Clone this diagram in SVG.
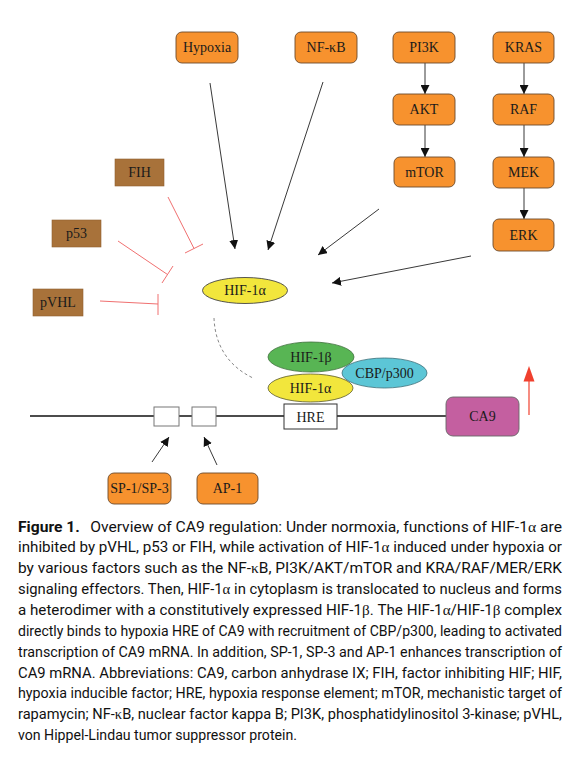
<svg xmlns="http://www.w3.org/2000/svg" width="587" height="758" viewBox="0 0 587 758">
<defs>
<marker id="ah" viewBox="0 0 10 10" refX="10" refY="5" markerWidth="9" markerHeight="9" markerUnits="userSpaceOnUse" orient="auto">
<path d="M0,0 L10,5 L0,10 z" fill="#111"/>
</marker>
</defs>
<style>
.or{fill:#F7922E;stroke:#6b4a2a;stroke-width:0.9}
.br{fill:#A8723A;stroke:#8f6030;stroke-width:0.6}
.lbl{font-family:"Liberation Serif","Times New Roman",serif;font-size:14px;fill:#1a1a1a;text-anchor:middle}
.ar{stroke:#222;stroke-width:0.9;fill:none;marker-end:url(#ah)}
.inh{stroke:#F07070;stroke-width:1;fill:none}
.cap{font-family:Roboto,"Liberation Sans",sans-serif;font-size:14.5px;fill:#111}
.gk{font-family:"Liberation Serif",serif}
.box{fill:#fff;stroke:#777;stroke-width:1}
</style>
<rect width="587" height="758" fill="#fff"/>

<g id="connectors">
<line class="ar" x1="425" y1="63" x2="425" y2="94"/>
<line class="ar" x1="524" y1="63" x2="524" y2="94"/>
<line class="ar" x1="425" y1="125" x2="425" y2="157"/>
<line class="ar" x1="524" y1="125" x2="524" y2="157"/>
<line class="ar" x1="524" y1="187" x2="524" y2="219"/>
<line class="ar" x1="210" y1="83" x2="235" y2="249"/>
<line class="ar" x1="323" y1="82" x2="268" y2="250"/>
<line class="ar" x1="379" y1="209" x2="318" y2="255"/>
<line class="ar" x1="471" y1="256" x2="332" y2="283"/>
<line class="inh" x1="168" y1="197" x2="194" y2="248.5"/>
<line class="inh" x1="185" y1="253" x2="203" y2="244"/>
<line class="inh" x1="118" y1="241" x2="167.5" y2="274.5"/>
<line class="inh" x1="162" y1="283" x2="173" y2="266"/>
<line class="inh" x1="100" y1="301" x2="158" y2="304"/>
<line class="inh" x1="158" y1="294" x2="158" y2="315"/>
<path d="M214,318 C215,345 228,366 253,378" fill="none" stroke="#888" stroke-width="1" stroke-dasharray="3,2.5"/>
<line class="ar" x1="152" y1="462" x2="169" y2="437"/>
<line class="ar" x1="217" y1="465" x2="204" y2="437"/>
</g>

<g id="dna">
<line x1="30" y1="416" x2="446" y2="416" stroke="#111" stroke-width="1.5"/>
</g>

<g id="hypoxia"><rect class="or" x="176" y="32" width="62" height="31" rx="6"/><text class="lbl" x="207" y="52">Hypoxia</text></g>
<g id="nfkb"><rect class="or" x="295" y="32" width="62" height="31" rx="6"/><text class="lbl" x="326" y="52">NF-κB</text></g>
<g id="pi3k"><rect class="or" x="393" y="32" width="62" height="31" rx="6"/><text class="lbl" x="424" y="52">PI3K</text></g>
<g id="kras"><rect class="or" x="493" y="32" width="61" height="31" rx="6"/><text class="lbl" x="523.5" y="52">KRAS</text></g>
<g id="akt"><rect class="or" x="393" y="94" width="62" height="31" rx="6"/><text class="lbl" x="424" y="114">AKT</text></g>
<g id="raf"><rect class="or" x="493" y="94" width="61" height="31" rx="6"/><text class="lbl" x="523.5" y="114">RAF</text></g>
<g id="mtor"><rect class="or" x="394" y="157" width="61" height="30" rx="6"/><text class="lbl" x="424.5" y="177">mTOR</text></g>
<g id="mek"><rect class="or" x="493" y="157" width="61" height="31" rx="6"/><text class="lbl" x="523.5" y="177">MEK</text></g>
<g id="erk"><rect class="or" x="493" y="219" width="61" height="32" rx="6"/><text class="lbl" x="523.5" y="240">ERK</text></g>

<g id="fih"><rect class="br" x="115" y="159" width="49" height="27"/><text class="lbl" x="139.5" y="177">FIH</text></g>
<g id="p53"><rect class="br" x="52" y="220" width="49" height="27"/><text class="lbl" x="76.5" y="238">p53</text></g>
<g id="pvhl"><rect class="br" x="33" y="289" width="50" height="27"/><text class="lbl" x="58" y="307">pVHL</text></g>

<g id="hif1a-cyto"><ellipse cx="245" cy="290.5" rx="42.5" ry="13" fill="#F2E63C" stroke="#444" stroke-width="0.9"/><text class="lbl" x="245" y="295">HIF-1α</text></g>

<g id="hif1b"><ellipse cx="311" cy="357" rx="43" ry="15" fill="#58B554" stroke="#3c6e3a" stroke-width="0.8"/><text class="lbl" x="311" y="362">HIF-1β</text></g>
<g id="cbp"><ellipse cx="384.5" cy="373" rx="42.5" ry="15" fill="#5CC6D6" stroke="#3a6f78" stroke-width="0.8"/><text class="lbl" x="384.5" y="378">CBP/p300</text></g>
<g id="hif1a-nuc"><ellipse cx="310.5" cy="388" rx="42.5" ry="14" fill="#F2E63C" stroke="#5a5a30" stroke-width="0.8"/><text class="lbl" x="310.5" y="393">HIF-1α</text></g>

<g id="site1"><rect class="box" x="154" y="407" width="25" height="19"/></g>
<g id="site2"><rect class="box" x="192" y="407" width="24" height="19"/></g>
<g id="hre"><rect x="284" y="404" width="53" height="25" fill="#fff" stroke="#333" stroke-width="1"/><text class="lbl" x="310.5" y="421.5">HRE</text></g>
<g id="ca9"><rect x="446" y="397" width="73" height="39" rx="7" fill="#C45FA0" stroke="#666" stroke-width="0.9"/><text class="lbl" x="482.5" y="421">CA9</text></g>
<g id="up-arrow"><line x1="529" y1="415" x2="529" y2="381" stroke="#F0402E" stroke-width="1.2"/><path d="M523.5,381.5 L534.5,381.5 L529,366 z" fill="#F0402E"/></g>

<g id="sp"><rect class="or" x="108" y="473" width="63" height="31" rx="6"/><text class="lbl" x="139.5" y="493">SP-1/SP-3</text></g>
<g id="ap1"><rect class="or" x="197" y="473" width="61" height="31" rx="6"/><text class="lbl" x="227.5" y="493">AP-1</text></g>

<g id="caption" class="cap">
<text x="18" y="531.5" textLength="544" lengthAdjust="spacingAndGlyphs"><tspan font-weight="bold">Figure 1.</tspan><tspan dx="6"> Overview of CA9 regulation: Under normoxia, functions of HIF-1</tspan><tspan class="gk">α</tspan> are</text>
<text x="18" y="552.4" textLength="544" lengthAdjust="spacingAndGlyphs">inhibited by pVHL, p53 or FIH, while activation of HIF-1<tspan class="gk">α</tspan> induced under hypoxia or</text>
<text x="18" y="573.2" textLength="544" lengthAdjust="spacingAndGlyphs">by various factors such as the NF-<tspan class="gk">κ</tspan>B, PI3K/AKT/mTOR and KRA/RAF/MER/ERK</text>
<text x="18" y="594.1" textLength="544" lengthAdjust="spacingAndGlyphs">signaling effectors. Then, HIF-1<tspan class="gk">α</tspan> in cytoplasm is translocated to nucleus and forms</text>
<text x="18" y="614.9" textLength="544" lengthAdjust="spacingAndGlyphs">a heterodimer with a constitutively expressed HIF-1<tspan class="gk">β</tspan>. The HIF-1<tspan class="gk">α</tspan>/HIF-1<tspan class="gk">β</tspan> complex</text>
<text x="18" y="635.8" textLength="544" lengthAdjust="spacingAndGlyphs">directly binds to hypoxia HRE of CA9 with recruitment of CBP/p300, leading to activated</text>
<text x="18" y="656.6" textLength="544" lengthAdjust="spacingAndGlyphs">transcription of CA9 mRNA. In addition, SP-1, SP-3 and AP-1 enhances transcription of</text>
<text x="18" y="677.5" textLength="544" lengthAdjust="spacingAndGlyphs">CA9 mRNA. Abbreviations: CA9, carbon anhydrase IX; FIH, factor inhibiting HIF; HIF,</text>
<text x="18" y="698.3" textLength="544" lengthAdjust="spacingAndGlyphs">hypoxia inducible factor; HRE, hypoxia response element; mTOR, mechanistic target of</text>
<text x="18" y="719.2" textLength="544" lengthAdjust="spacingAndGlyphs">rapamycin; NF-<tspan class="gk">κ</tspan>B, nuclear factor kappa B; PI3K, phosphatidylinositol 3-kinase; pVHL,</text>
<text x="18" y="740" textLength="279" lengthAdjust="spacingAndGlyphs">von Hippel-Lindau tumor suppressor protein.</text>
</g>
</svg>
